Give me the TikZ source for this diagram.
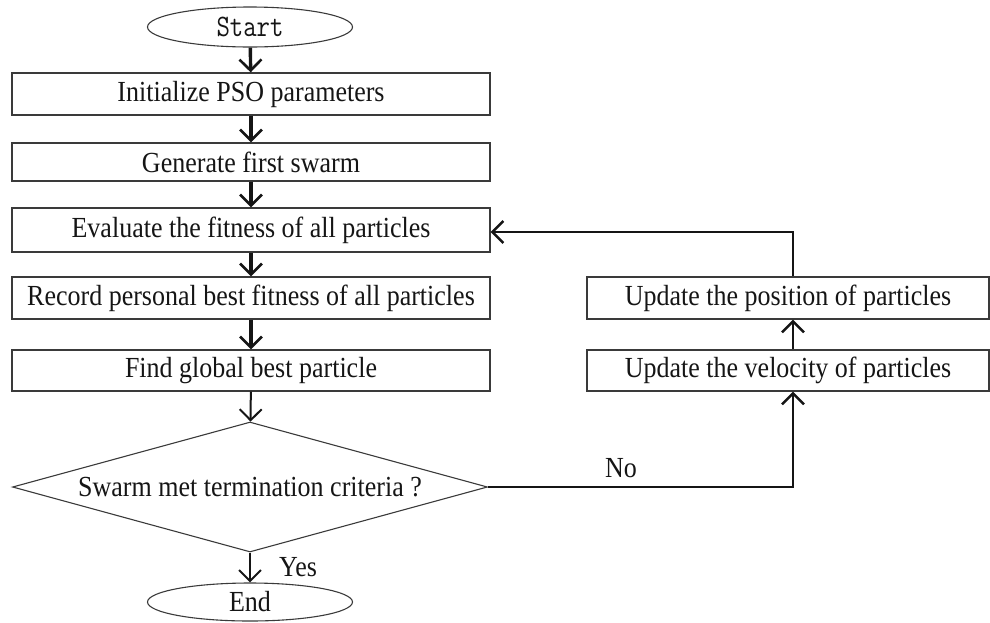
\documentclass[tikz,border=0pt]{standalone}
\usepackage{fontspec}
\usepackage{graphicx}
\setmainfont{Liberation Serif}
\usetikzlibrary{shapes.geometric,arrows.meta}
\newcommand{\tall}[1]{\scalebox{1}[1.12]{#1}}
\definecolor{edge}{HTML}{3A3A3A}
\definecolor{ink}{HTML}{151515}
\tikzset{
  stepbox/.style={draw=edge, line width=1.3pt, rectangle, inner sep=0pt,
    text=ink, font=\fontsize{26}{28}\selectfont},
  term/.style={draw=edge, line width=1.1pt, ellipse, inner sep=0pt,
    minimum width=205pt, text=ink},
  decide/.style={draw=edge, line width=1.1pt, diamond, inner sep=0pt,
    shape aspect=3.65, minimum width=475pt, minimum height=130pt,
    text=ink, font=\fontsize{26}{28}\selectfont},
  flow/.style={draw=ink, line width=3.4pt,
    -{Straight Barb[length=11pt,width=22pt,line width=2.6pt]}},
  thinflow/.style={draw=ink, line width=2pt,
    -{Straight Barb[length=11pt,width=22pt,line width=2pt]}},
  loopflow/.style={draw=ink, line width=2.9pt,
    -{Straight Barb[length=11pt,width=22pt,line width=2.4pt]}},
  tag/.style={text=ink, font=\fontsize{26}{28}\selectfont, inner sep=0pt}
}
\begin{document}
\begin{tikzpicture}[x=1pt,y=-1pt]
\useasboundingbox (0,0) rectangle (990,622);

% main column
\node[term, minimum height=40pt, font=\ttfamily\fontsize{26}{28}\selectfont]
  (start) at (250,27) {\scalebox{1}[1.2]{Start}};
\node[stepbox, minimum width=478pt, minimum height=42pt] (init) at (251,94) {\tall{Initialize PSO parameters}};
\node[stepbox, minimum width=478pt, minimum height=38pt] (gen) at (251,162) {\tall{Generate first swarm}};
\node[stepbox, minimum width=478pt, minimum height=44pt] (eval) at (251,230) {\tall{Evaluate the fitness of all particles}};
\node[stepbox, minimum width=478pt, minimum height=42pt] (rec) at (251,298) {\tall{Record personal best fitness of all particles}};
\node[stepbox, minimum width=478pt, minimum height=41pt] (find) at (251,370.5) {\tall{Find global best particle}};
\node[decide] (dec) at (250,487) {\tall{Swarm met termination criteria ?}};
\node[term, minimum height=38pt, font=\fontsize{26}{28}\selectfont]
  (end) at (250,602) {\tall{End}};

% update column
\node[stepbox, minimum width=402pt, minimum height=42pt] (pos) at (788,298) {\tall{Update the position of particles}};
\node[stepbox, minimum width=402pt, minimum height=41pt] (vel) at (788,370.5) {\tall{Update the velocity of particles}};

% turning points of the loop
\coordinate (noturn) at (793,487);
\coordinate (backturn) at (793,232);

% connectors
\draw[flow] (start) -- (init);
\draw[flow] (init) -- (gen);
\draw[flow] (gen) -- (eval);
\draw[flow] (eval) -- (rec);
\draw[flow] (rec) -- (find);
\draw[thinflow] (find) -- (dec);
\draw[thinflow] (dec) -- (end);
\draw[loopflow] (dec.east) -- (noturn) -- (noturn |- vel.south);
\draw[loopflow] (vel.north -| noturn) -- (pos.south -| noturn);
\draw[loopflow] (pos.north -| noturn) -- (backturn) -- (backturn -| eval.east);

% branch labels
\node[tag, anchor=west] (yes) at (279,567) {\tall{Yes}};
\node[tag] (no) at (621,468) {\tall{No}};
\end{tikzpicture}
\end{document}
